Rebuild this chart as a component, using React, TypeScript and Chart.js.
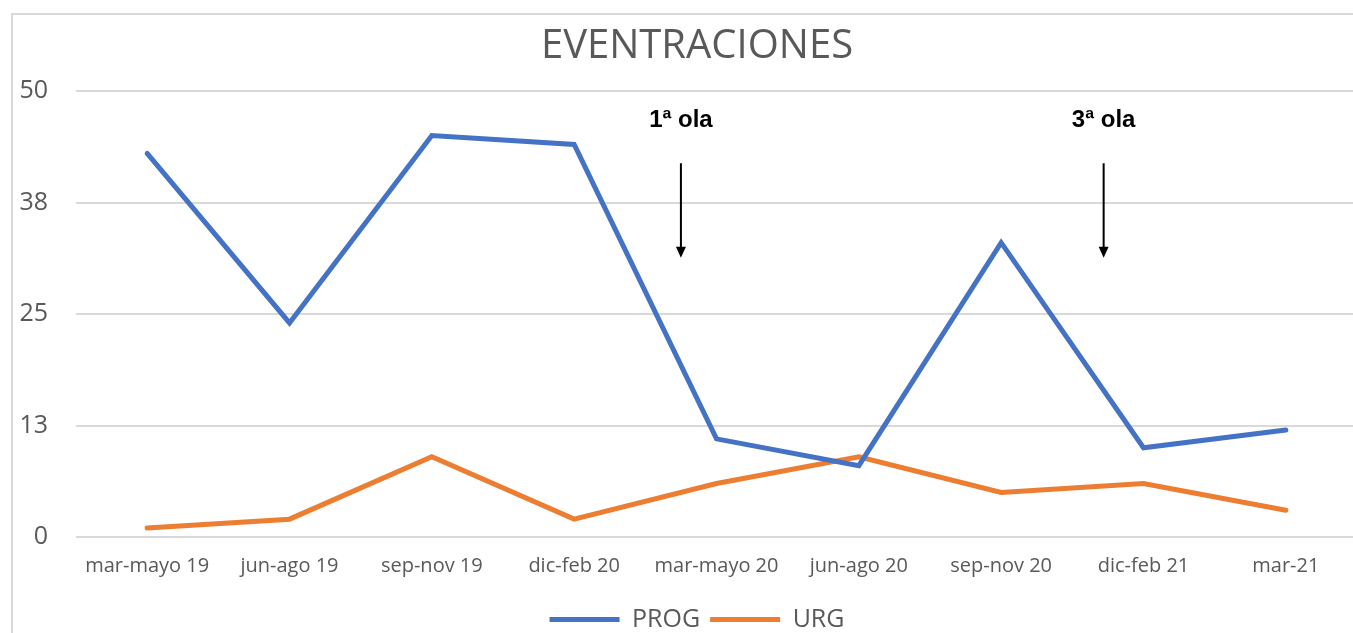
import React, { useEffect, useRef } from 'react';
import { Chart, registerables } from 'chart.js';

Chart.register(...registerables);

const categories = [
  'mar-mayo 19',
  'jun-ago 19',
  'sep-nov 19',
  'dic-feb 20',
  'mar-mayo 20',
  'jun-ago 20',
  'sep-nov 20',
  'dic-feb 21',
  'mar-21',
];
const progValues = [43, 24, 45, 44, 11, 8, 33, 10, 12];
const urgValues = [1, 2, 9, 2, 6, 9, 5, 6, 3];
const yTickValues = [0, 12.5, 25, 37.5, 50];
const yTickLabels = ['0', '13', '25', '38', '50'];
const waveLabels = ['1ª ola', '3ª ola'];
const waveCategoryPos = [3.75, 6.72];
const waveTextValue = 46.7;
const waveArrowFrom = 41.9;
const waveArrowTo = 31.3;

const CANVAS_W = 1394;
const CANVAS_H = 642;

const framePlugin = {
  id: 'frame',
  beforeDraw(chart: any) {
    const ctx = chart.ctx;
    ctx.save();
    ctx.fillStyle = '#ffffff';
    ctx.fillRect(0, 0, chart.width, chart.height);
    ctx.strokeStyle = '#d9d9d9';
    ctx.lineWidth = 2;
    ctx.strokeRect(12, 14, chart.width + 50, chart.height + 50);
    ctx.restore();
  },
};

const wavePlugin = {
  id: 'waves',
  afterDatasetsDraw(chart: any) {
    const { ctx, scales } = chart;
    const xs = scales.x;
    const ys = scales.y;
    ctx.save();
    waveLabels.forEach((label, i) => {
      const px = xs.getPixelForValue(waveCategoryPos[i]);
      ctx.fillStyle = '#000000';
      ctx.font = 'bold 24px "Liberation Sans", Arial, sans-serif';
      ctx.textAlign = 'center';
      ctx.textBaseline = 'middle';
      ctx.fillText(label, px, ys.getPixelForValue(waveTextValue));
      const y1 = ys.getPixelForValue(waveArrowFrom);
      const y2 = ys.getPixelForValue(waveArrowTo);
      ctx.strokeStyle = '#000000';
      ctx.lineWidth = 2;
      ctx.beginPath();
      ctx.moveTo(px, y1);
      ctx.lineTo(px, y2 - 8);
      ctx.stroke();
      ctx.beginPath();
      ctx.moveTo(px - 5, y2 - 11);
      ctx.lineTo(px + 5, y2 - 11);
      ctx.lineTo(px, y2);
      ctx.closePath();
      ctx.fill();
    });
    ctx.restore();
  },
};

export default function App() {
  const canvasRef = useRef<HTMLCanvasElement | null>(null);

  useEffect(() => {
    const canvas = canvasRef.current;
    if (!canvas) return;
    const chart = new Chart(canvas, {
      type: 'line',
      data: {
        labels: categories,
        datasets: [
          {
            label: 'PROG',
            data: progValues,
            borderColor: '#4472C4',
            backgroundColor: '#4472C4',
            borderWidth: 5,
            borderCapStyle: 'round',
            pointRadius: 0,
            tension: 0,
            yAxisID: 'y',
          },
          {
            label: 'URG',
            data: urgValues,
            borderColor: '#ED7D31',
            backgroundColor: '#ED7D31',
            borderWidth: 5,
            borderCapStyle: 'round',
            pointRadius: 0,
            tension: 0,
            yAxisID: 'y',
          },
        ],
      },
      options: {
        responsive: false,
        animation: false,
        devicePixelRatio: 1,
        layout: { padding: { left: 0, right: 0, top: 0, bottom: 0 } },
        plugins: {
          title: {
            display: true,
            text: 'EVENTRACIONES',
            color: '#595959',
            font: { family: '"Open Sans", sans-serif', size: 40, weight: 'normal' },
            padding: { top: 23, bottom: 20 },
          },
          legend: {
            position: 'bottom',
            labels: {
              boxWidth: 70,
              boxHeight: 5,
              padding: 10,
              color: '#595959',
              font: { family: '"Open Sans", sans-serif', size: 25 },
              generateLabels(ch: any) {
                const items = (Chart.defaults.plugins.legend.labels as any).generateLabels(ch);
                return items.map((it: any) => ({ ...it, lineWidth: 0 }));
              },
            },
          },
          tooltip: { enabled: false },
        },
        scales: {
          x: {
            offset: true,
            grid: { display: false, drawTicks: false },
            border: { display: false },
            ticks: {
              color: '#595959',
              font: { family: '"Open Sans", sans-serif', size: 20 },
              padding: 17,
              maxRotation: 0,
              autoSkip: false,
            },
            afterFit(s: any) {
              s.height = 60;
            },
          },
          y: {
            position: 'left',
            min: 0,
            max: 50,
            grid: { color: '#d9d9d9', lineWidth: 2, drawTicks: false },
            border: { display: false },
            ticks: {
              color: '#595959',
              font: { family: '"Open Sans", sans-serif', size: 25 },
              padding: 28,
              callback: (_v: any, i: number) => yTickLabels[i],
            },
            afterBuildTicks(s: any) {
              s.ticks = yTickValues.map((v) => ({ value: v }));
            },
            afterFit(s: any) {
              s.width = 76;
            },
          },
          yRight: {
            position: 'right',
            display: true,
            min: 0,
            max: 50,
            grid: { display: false, drawTicks: false },
            border: { display: false },
            ticks: { display: false },
            afterFit(s: any) {
              s.width = 37;
            },
          },
        },
      } as any,
      plugins: [framePlugin, wavePlugin],
    });
    return () => chart.destroy();
  }, []);

  return (
    <div
      style={{
        position: 'absolute',
        left: 0,
        top: 0,
        width: 1353,
        height: 633,
        overflow: 'hidden',
        background: '#ffffff',
      }}
    >
      <canvas ref={canvasRef} width={CANVAS_W} height={CANVAS_H} style={{ display: 'block' }} />
    </div>
  );
}
